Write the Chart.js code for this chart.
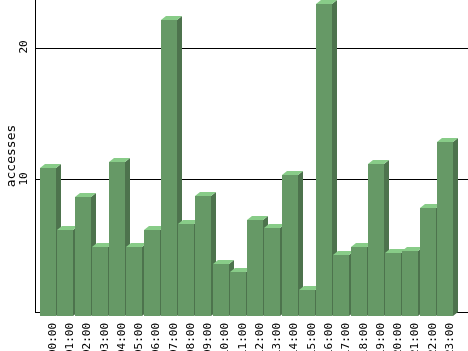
<!DOCTYPE html>
<html>
<head>
<meta charset="utf-8">
<script src="https://cdn.jsdelivr.net/npm/chart.js@4"></script>
<style>
  html, body { margin: 0; padding: 0; background: #fff; }
  #wrap { width: 468px; height: 351px; }
</style>
</head>
<body>
<div id="wrap"><canvas id="chart" width="468" height="351"></canvas></div>
<script>
const hours = ['00:00', '01:00', '02:00', '03:00', '04:00', '05:00', '06:00', '07:00',
  '08:00', '09:00', '10:00', '11:00', '12:00', '13:00', '14:00', '15:00',
  '16:00', '17:00', '18:00', '19:00', '20:00', '21:00', '22:00', '23:00'];
const accesses = [11.2, 6.5, 9.0, 5.25, 11.7, 5.25, 6.5, 22.45, 7.0, 9.1, 3.95, 3.3,
  7.25, 6.7, 10.65, 2.0, 23.6, 4.6, 5.25, 11.55, 4.75, 4.95, 8.15, 13.2];
const yTicks = [10, 20];

const DX = 5, DY = 4; // depth of the 3d bars
const FRONT = '#669966', SIDE = '#4d734d', TOP = '#88cc88';

// draws each bar as a little box, back face sits on the scale position
const bars3d = {
  id: 'bars3d',
  afterDatasetsDraw(chart) {
    const ctx = chart.ctx;
    const meta = chart.getDatasetMeta(0);
    ctx.save();
    meta.data.forEach(bar => {
      const p = bar.getProps(['x', 'y', 'base', 'width'], true);
      const l = Math.round(p.x - p.width / 2);
      const r = l + Math.round(p.width);
      const t = Math.round(p.y);
      const b = Math.round(p.base);
      ctx.fillStyle = SIDE;
      ctx.beginPath();
      ctx.moveTo(r - DX, t + DY);
      ctx.lineTo(r, t);
      ctx.lineTo(r, b);
      ctx.lineTo(r - DX, b + DY);
      ctx.closePath();
      ctx.fill();
      ctx.fillStyle = TOP;
      ctx.beginPath();
      ctx.moveTo(l - DX, t + DY);
      ctx.lineTo(l, t);
      ctx.lineTo(r, t);
      ctx.lineTo(r - DX, t + DY);
      ctx.closePath();
      ctx.fill();
      ctx.fillStyle = FRONT;
      ctx.fillRect(l - DX, t + DY, r - l, b - t);
    });
    ctx.restore();
  },
  afterDraw(chart) {
    // rotated y tick labels
    const ctx = chart.ctx;
    const y = chart.scales.y;
    ctx.save();
    ctx.fillStyle = '#000';
    ctx.font = '11px "DejaVu Sans Mono"';
    ctx.textAlign = 'center';
    ctx.textBaseline = 'alphabetic';
    yTicks.forEach(v => {
      ctx.save();
      ctx.translate(27, y.getPixelForValue(v) - 1);
      ctx.rotate(-Math.PI / 2);
      ctx.fillText(String(v), 0, 0);
      ctx.restore();
    });
    ctx.restore();
  }
};

const PX_PER_BAR = 17.26;
const xMin = -(53 - 35) / PX_PER_BAR;
const xMax = xMin + 433 / PX_PER_BAR;

new Chart(document.getElementById('chart'), {
  type: 'bar',
  data: {
    datasets: [{
      label: 'accesses',
      data: accesses.map((v, i) => ({ x: i, y: v })),
      backgroundColor: 'rgba(0,0,0,0)',
      borderWidth: 0,
      barThickness: 16
    }]
  },
  options: {
    responsive: false,
    animation: false,
    events: [],
    layout: { padding: 0 },
    plugins: {
      legend: { display: false },
      tooltip: { enabled: false }
    },
    scales: {
      x: {
        type: 'linear',
        offset: false,
        min: xMin,
        max: xMax,
        afterBuildTicks: s => { s.ticks = s.ticks.filter(t => t.value >= 0 && t.value <= 23); },
        afterFit: s => { s.height = 39; },
        grid: { display: false, offset: false },
        border: { display: true, color: '#000', width: 1 },
        ticks: {
          stepSize: 1,
          includeBounds: false,
          autoSkip: false,
          minRotation: 90,
          maxRotation: 90,
          padding: 3,
          color: '#000',
          font: { family: 'DejaVu Sans Mono', size: 11 },
          callback: v => hours[v] || ''
        }
      },
      y: {
        min: 0,
        max: 312 / 13.2,
        afterFit: s => { s.width = 35; },
        grid: { color: '#000', lineWidth: 1, drawTicks: false },
        border: { display: true, color: '#000', width: 1 },
        ticks: { display: false, stepSize: 10, includeBounds: false },
        title: {
          display: true,
          text: 'accesses',
          color: '#000',
          padding: { top: 4, bottom: 0 },
          font: { family: 'DejaVu Sans Mono', size: 13 }
        }
      }
    }
  },
  plugins: [bars3d]
});
</script>
</body>
</html>
